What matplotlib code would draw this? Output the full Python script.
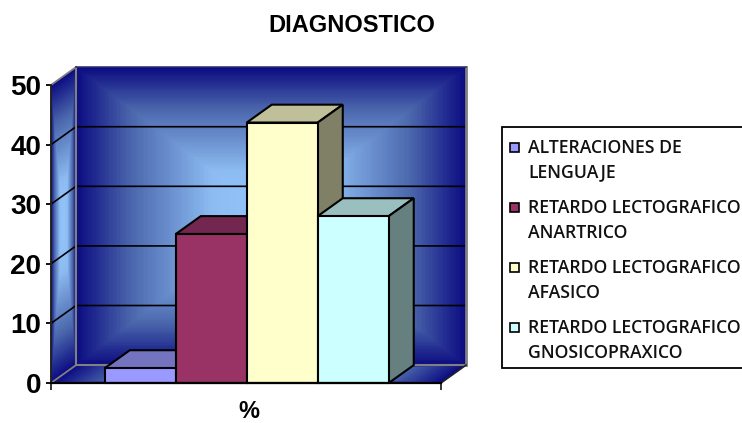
import numpy as np
import matplotlib
matplotlib.use("Agg")
import matplotlib.pyplot as plt
from matplotlib.colors import LinearSegmentedColormap
from matplotlib.patches import Rectangle

categories = ["ALTERACIONES DE\nLENGUAJE", "RETARDO LECTOGRAFICO\nANARTRICO",
              "RETARDO LECTOGRAFICO\nAFASICO", "RETARDO LECTOGRAFICO\nGNOSICOPRAXICO"]
values = [2.5, 25, 43.7, 28]
front_colors = ["#9999FF", "#993366", "#FFFFCC", "#CCFFFF"]
top_colors = ["#7373BF", "#732650", "#BFBF99", "#99BFBF"]
side_colors = ["#4D4D80", "#4D1A33", "#808066", "#668080"]
y_ticks = [0, 10, 20, 30, 40, 50]

W, H = 742, 423
FONT = "Liberation Sans"

fig = plt.figure(figsize=(W / 100, H / 100), dpi=100)
ax = fig.add_axes([51 / W, 1 - 383 / H, 390 / W, 298 / H])
ax.patch.set_visible(False)
for s in ax.spines.values():
    s.set_visible(False)

# depth of the fake 3d box, in data units
dx = 25 / 390
dy = 3.0
x0, x1 = -0.5, 0.5
y0, y1 = 0, 50

wall_cmap = LinearSegmentedColormap.from_list(
    "wall", [(0, "#93C4FA"), (0.3, "#8DBCF2"), (0.72, "#4A66AC"), (1, "#0B0B80")])


def gradient_quad(p00, p10, p01, n=160):
    # rectangular gradient, light in the middle, on a skewed quad
    u = np.linspace(0, 1, n + 1)
    v = np.linspace(0, 1, n + 1)
    uu, vv = np.meshgrid(u, v)
    X = p00[0] + uu * (p10[0] - p00[0]) + vv * (p01[0] - p00[0])
    Y = p00[1] + uu * (p10[1] - p00[1]) + vv * (p01[1] - p00[1])
    cu = (u[:-1] + u[1:]) / 2
    cv = (v[:-1] + v[1:]) / 2
    t = np.maximum(*np.meshgrid(np.abs(2 * cu - 1), np.abs(2 * cv - 1)))
    m = ax.pcolormesh(X, Y, t, cmap=wall_cmap, vmin=0, vmax=1, shading="flat",
                      antialiased=False, zorder=1)
    m.set_clip_on(False)


# back wall, side wall, floor
gradient_quad((x0 + dx, y0 + dy), (x1 + dx, y0 + dy), (x0 + dx, y1 + dy))
gradient_quad((x0, y0), (x0 + dx, y0 + dy), (x0, y1))
gradient_quad((x0, y0), (x1, y0), (x0 + dx, y0 + dy))

# gridlines run along the side wall and then across the back wall
for v in y_ticks[1:-1]:
    ax.plot([x0, x0 + dx, x1 + dx], [v, v + dy, v + dy], color="black", lw=1.2,
            zorder=2, clip_on=False)

gray = "#808080"
ax.plot([x0 + dx, x0 + dx], [y0 + dy, y1 + dy], color=gray, lw=1.5, zorder=2, clip_on=False)
ax.plot([x1 + dx, x1 + dx], [y0 + dy, y1 + dy], color=gray, lw=2, zorder=2, clip_on=False)
ax.plot([x0 + dx, x1 + dx], [y0 + dy, y0 + dy], color=gray, lw=1.5, zorder=2, clip_on=False)
ax.plot([x0, x0 + dx], [y0, y0 + dy], color=gray, lw=1.3, zorder=2, clip_on=False)
ax.plot([x0, x0 + dx], [y1, y1 + dy], color=gray, lw=1.3, zorder=2, clip_on=False)
ax.plot([x0 + dx, x1 + dx], [y1 + dy, y1 + dy], color="#2A2A70", lw=1.1, zorder=2, clip_on=False)
ax.plot([x1, x1 + dx], [y0, y0 + dy], color="#222222", lw=1.2, zorder=2, clip_on=False)
ax.plot([x0, x0], [y0, y1], color="#222222", lw=1.4, zorder=2, clip_on=False)

# bars, front face through ax.bar with the top and side polygons added on
bar_w = 0.182
lefts = [-0.362 + i * bar_w for i in range(len(values))]
for i, v in enumerate(values):
    l = lefts[i]
    r = l + bar_w
    z = 3 + i
    ax.fill([l, r, r + dx, l + dx], [v, v, v + dy, v + dy], facecolor=top_colors[i],
            edgecolor="black", lw=1.5, zorder=z, clip_on=False)
    ax.fill([r, r + dx, r + dx, r], [0, dy, v + dy, v], facecolor=side_colors[i],
            edgecolor="black", lw=1.5, zorder=z, clip_on=False)
    ax.bar(l, v, width=bar_w, align="edge", color=front_colors[i], edgecolor="black",
           lw=1.5, zorder=z + 0.5, clip_on=False)

ax.plot([x0, x1], [0, 0], color="black", lw=1.6, zorder=10, clip_on=False)

ax.set_xlim(x0, x1)
ax.set_ylim(y0, y1)
ax.set_yticks(y_ticks)
ax.set_yticklabels([str(t) for t in y_ticks], fontname=FONT, fontweight="bold", fontsize=20)
ax.tick_params(axis="y", length=3.6, width=1.3, pad=3.5)
ax.set_xticks([x0, x1])
ax.set_xticklabels(["", ""])
ax.set_xticks([0.008], ["%"], minor=True, fontname=FONT, fontweight="bold", fontsize=17)
ax.tick_params(axis="x", which="major", length=5, width=1.1)
ax.tick_params(axis="x", which="minor", length=0, pad=12.5)

fig.text(352 / W, 1 - 25 / H, "DIAGNOSTICO", ha="center", va="center",
         fontname=FONT, fontweight="bold", fontsize=17)

# legend box runs off the right side of the canvas
fig.patches.append(Rectangle((502 / W, 1 - 368 / H), 260 / W, 241 / H, transform=fig.transFigure,
                             facecolor="white", edgecolor="black", lw=1.3, figure=fig))
for i, name in enumerate(categories):
    y = 148 + 60 * i
    fig.patches.append(Rectangle((510 / W, 1 - (y + 4) / H), 9 / W, 9 / H, transform=fig.transFigure,
                                 facecolor=front_colors[i], edgecolor="black", lw=1.2, figure=fig))
    line1, line2 = name.split("\n")
    fig.text(528 / W, 1 - y / H, line1, va="center", ha="left", fontname="Open Sans",
             fontweight="semibold", fontsize=12.7, color="#111111")
    fig.text(528 / W, 1 - (y + 24.5) / H, line2, va="center", ha="left", fontname="Open Sans",
             fontweight="semibold", fontsize=12.7, color="#111111")

fig.savefig("out.png", dpi=100)
